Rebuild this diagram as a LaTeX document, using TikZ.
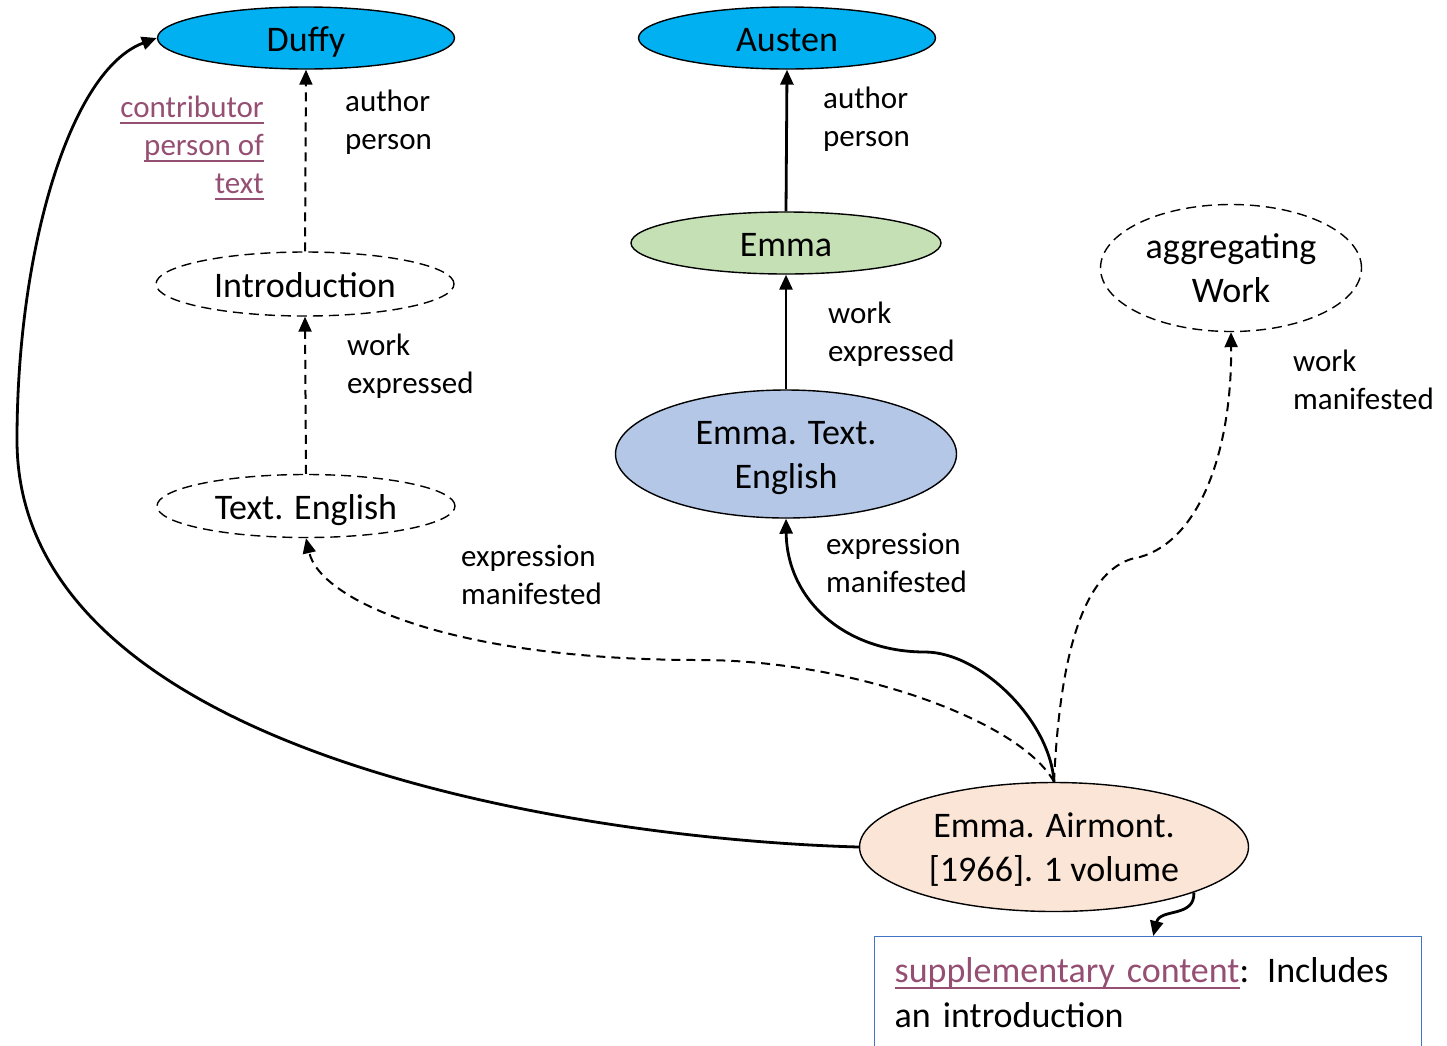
\documentclass[tikz,border=0pt]{standalone}
\usepackage{fontspec}
\setmainfont{Carlito}
\usepackage{xcolor}
\usetikzlibrary{shapes.geometric,arrows.meta}
\definecolor{agentblue}{HTML}{00B0F0}
\definecolor{workgreen}{HTML}{C5E0B4}
\definecolor{exprblue}{HTML}{B4C7E7}
\definecolor{manipeach}{HTML}{FBE5D6}
\definecolor{linkpurple}{HTML}{954F72}
\definecolor{noteblue}{HTML}{4472C4}
\newcommand{\rdalink}[1]{\textcolor{linkpurple}{\setbox0\hbox{#1}\rlap{\rule[-6pt]{\wd0}{1.6pt}}\box0}}

\begin{document}
\begin{tikzpicture}[x=1pt,y=-1pt,
	ent/.style={ellipse, draw, line width=1.4pt, inner sep=0pt, align=center, font=\fontsize{36}{44}\selectfont, text height=34pt, text depth=8pt},
	twoline/.style={text height=77pt, text depth=8pt},
	ghost/.style={ent, dash pattern=on 10pt off 6pt},
	rel/.style={inner sep=0pt, align=left, font=\fontsize{31}{38}\selectfont},
	link/.style={line width=2.8pt, -{Triangle[length=15pt,width=13pt]}},
	dlink/.style={line width=2pt, dash pattern=on 9pt off 6pt, -{Triangle[length=15pt,width=13pt]}}]
			\useasboundingbox (0,0) rectangle (1447,1045);
			\clip (0,0) rectangle (1447,1045);

			\node[ent, fill=agentblue, minimum width=297pt, minimum height=62pt] (duffy) at (306,38) {Duffy};
			\node[ent, fill=agentblue, minimum width=297pt, minimum height=62pt] (austen) at (787,38) {Austen};
			\node[ent, fill=workgreen, minimum width=310pt, minimum height=62pt] (emma) at (786,243) {Emma};
			\node[ghost, twoline, minimum width=261pt, minimum height=127pt] (aggwork) at (1231,268) {aggregating\\Work};
			\node[ghost, minimum width=298pt, minimum height=64pt] (intro) at (305,284) {Introduction};
			\node[ghost, minimum width=298pt, minimum height=63pt] (textengl) at (306,506) {Text. English};
			\node[ent, twoline, fill=exprblue, minimum width=341pt, minimum height=128pt] (emmaengl) at (786,454) {Emma. Text.\\English};
			\node[ent, twoline, fill=manipeach, minimum width=389pt, minimum height=129pt] (airmont) at (1054,847) {Emma. Airmont.\\{[1966]}. 1 volume};
			\node[draw=noteblue, line width=1.4pt, anchor=north west, inner xsep=20pt, inner ysep=21pt, text width=507pt, text depth=70pt, align=left, font=\fontsize{36}{45}\selectfont] (suppl) at (874,936) {\rdalink{supplementary content}: Includes an introduction};

			\node[rel, anchor=west] (lbauthA) at (345,122) {author\\person};
			\node[rel, anchor=east, align=right] (lbcontr) at (264,148) {\rdalink{contributor}\\\rdalink{person of}\\\rdalink{text}};
			\node[rel, anchor=west] (lbauthB) at (823,119) {author\\person};
			\node[rel, anchor=west] (lbworkA) at (347,366) {work\\expressed};
			\node[rel, anchor=west] (lbworkB) at (828,334) {work\\expressed};
			\node[rel, anchor=west] (lbworkC) at (1293,380) {work\\manifested};
			\node[rel, anchor=west] (lbexprA) at (461,575) {expression\\manifested};
			\node[rel, anchor=west] (lbexprB) at (826,563) {expression\\manifested};

			\draw[dlink] (intro.north) -- (duffy.south);
			\draw[dlink] (textengl.north) -- (intro.south);
			\draw[link] (emma.north) -- (austen.south);
			\draw[link] (emmaengl.north) -- (emma.south);
			\draw[link] (airmont.west) .. controls (600,840) and (17,760) .. (17,440) .. controls (17,250) and (70,70) .. (duffy.west);
			\draw[link] (airmont.north) .. controls (1050,720) and (980,652) .. (925,652) .. controls (845,652) and (787,600) .. (emmaengl.south);
			\draw[dlink] (airmont.north) .. controls (1020,720) and (850,660) .. (700,660) .. controls (450,660) and (320,600) .. (textengl.south);
			\draw[dlink] (airmont.north) .. controls (1060,650) and (1085,565) .. (1140,557) .. controls (1200,540) and (1232,450) .. (aggwork.south);
			\draw[link] (airmont.-18) .. controls (1195,918) and (1160,908) .. ([xshift=5pt]suppl.north);
		\end{tikzpicture}
\end{document}
